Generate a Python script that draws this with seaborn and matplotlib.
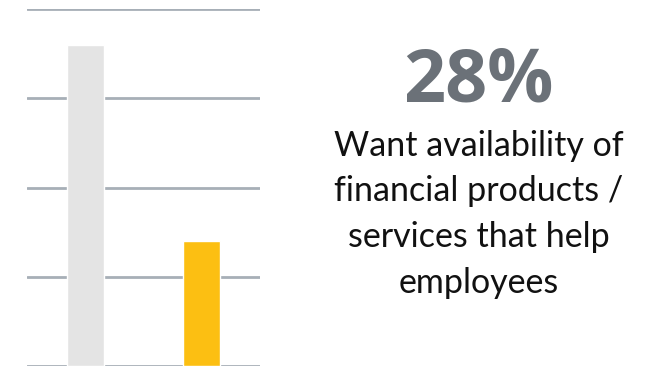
import matplotlib
matplotlib.use("Agg")
import matplotlib.pyplot as plt
import seaborn as sns
import pandas as pd

categories = ["Other", "Want availability"]
values = [72, 28]
bar_colors = ["#E4E4E4", "#FCBF12"]
headline = "28%"
description = "Want availability of\nfinancial products /\nservices that help\nemployees"

sns.set_theme(style="white")
plt.rcParams["font.family"] = ["Lato", "DejaVu Sans"]

df = pd.DataFrame({"category": categories, "value": values})

fig = plt.figure(figsize=(6.53, 3.75), dpi=100)
ax = fig.add_axes([27 / 653, 1 - 366 / 375, 233 / 653, (366 - 9.3) / 375])

sns.barplot(data=df, x="category", y="value", hue="category",
            palette=bar_colors, width=0.32, legend=False, ax=ax,
            saturation=1, zorder=3)

ax.set_ylim(0, 80)
ax.set_xlim(-0.5, 1.5)
ax.set_yticks([0, 20, 40, 60, 80])
ax.yaxis.grid(True, color="#A7AFB7", linewidth=2, zorder=0)
ax.set_axisbelow(True)
ax.set_xticks([])
ax.set_yticklabels([])
ax.tick_params(left=False, bottom=False)
ax.set_xlabel("")
ax.set_ylabel("")
for s in ax.spines.values():
    s.set_visible(False)

fig.text(478 / 653, 1 - 102 / 375, headline, ha="center", va="baseline",
         fontsize=53, fontweight="bold", color="#6B7178",
         family=["Open Sans", "DejaVu Sans"])
fig.text(479 / 653, 1 - 293 / 375, description, ha="center", va="baseline",
         fontsize=24.5, color="#111111", linespacing=1.53)

fig.savefig("out.png", dpi=100)
